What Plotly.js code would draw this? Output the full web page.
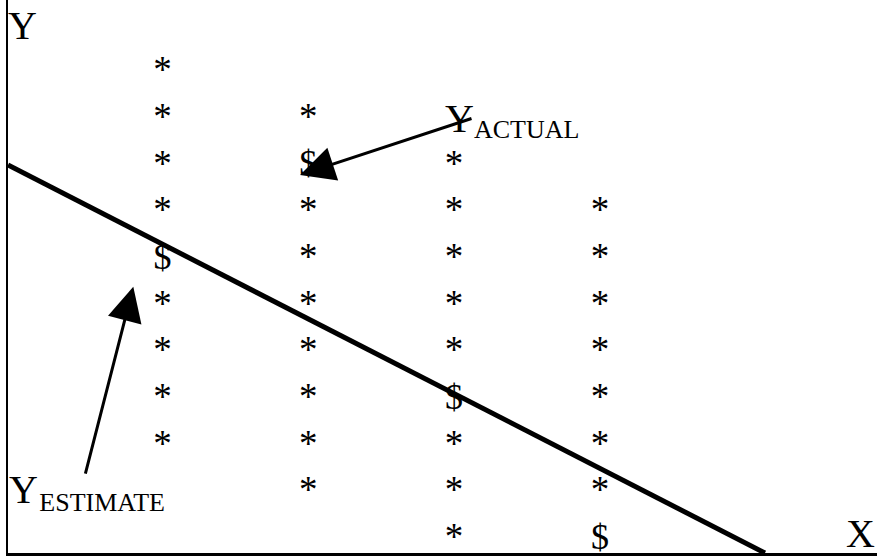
<!DOCTYPE html>
<html>
<head>
<meta charset="utf-8">
<script src="https://cdn.plot.ly/plotly-3.0.1.min.js"></script>
<style>
  html, body { margin: 0; padding: 0; background: #ffffff; }
  #chart { width: 877px; height: 557px; }
</style>
</head>
<body>
<div id="chart"></div>
<script>
// Four X groups, each with a vertical stack of observed Y values ("*")
// and one highlighted value ("$").
const columns = [1, 2, 3, 4];
const starRows = [
  [11, 10, 9, 8, 6, 5, 4, 3],
  [10, 8, 7, 6, 5, 4, 3, 2],
  [9, 8, 7, 6, 5, 3, 2, 1],
  [8, 7, 6, 5, 4, 3, 2]
];
const dollarRows = [7, 9, 4, 1];

// Estimated (fitted) line, end points on the axes
const fitX = [-0.0597, 5.132];
const fitY = [9.0287, 0.715];

// Axis and callout labels
const labelText = ['Y', 'X', 'Y', 'ACTUAL', 'Y', 'ESTIMATE'];
const labelX    = [-0.0597, 5.688, 2.9376, 3.1365, -0.0528, 0.155];
const labelY    = [11.943, 1.058, 9.950, 9.747, 2.0006, 1.754];
const labelSize = [40, 40, 40, 26, 40, 26];

// Callout arrows: tail -> head
const arrowTail = [[3.1296, 10.036], [0.4685, 2.386]];
const arrowHead = [[1.943, 8.8147], [0.7997, 6.421]];

const SERIF = 'Liberation Serif, Times New Roman, serif';

const starX = [], starY = [];
columns.forEach((c, i) => {
  starRows[i].forEach(r => { starX.push(c); starY.push(r); });
});

const traces = [
  {
    type: 'scatter', mode: 'lines',
    x: fitX, y: fitY,
    line: { color: '#000000', width: 5 },
    hoverinfo: 'skip'
  },
  {
    type: 'scatter', mode: 'text',
    x: starX, y: starY,
    text: starX.map(() => '*'),
    textposition: 'middle center',
    textfont: { family: SERIF, size: 37, color: '#000000' },
    cliponaxis: false, hoverinfo: 'skip'
  },
  {
    type: 'scatter', mode: 'text',
    x: columns, y: dollarRows,
    text: columns.map(() => '$'),
    textposition: 'middle center',
    textfont: { family: SERIF, size: 36, color: '#000000' },
    cliponaxis: false, hoverinfo: 'skip'
  },
  {
    type: 'scatter', mode: 'text',
    x: labelX, y: labelY,
    text: labelText,
    textposition: 'middle right',
    textfont: { family: SERIF, size: labelSize, color: '#000000' },
    cliponaxis: false, hoverinfo: 'skip'
  }
];

const annotations = arrowHead.map((h, i) => ({
  x: h[0], y: h[1], xref: 'x', yref: 'y',
  ax: arrowTail[i][0], ay: arrowTail[i][1], axref: 'x', ayref: 'y',
  text: '', showarrow: true,
  arrowhead: 2, arrowsize: 2.3, arrowwidth: 3, arrowcolor: '#000000'
}));

const layout = {
  width: 877, height: 557,
  margin: { l: 8, r: 0, t: 0, b: 4, pad: 0 },
  paper_bgcolor: '#ffffff', plot_bgcolor: '#ffffff',
  showlegend: false,
  xaxis: {
    range: [-0.0597, 5.9005], showgrid: false, zeroline: false,
    showticklabels: false, ticks: '',
    showline: true, linecolor: '#000000', linewidth: 3
  },
  yaxis: {
    range: [0.715, 12.564], showgrid: false, zeroline: false,
    showticklabels: false, ticks: '',
    showline: true, linecolor: '#000000', linewidth: 2
  },
  annotations: annotations
};

Plotly.newPlot('chart', traces, layout, { staticPlot: true, displayModeBar: false });
</script>
</body>
</html>
